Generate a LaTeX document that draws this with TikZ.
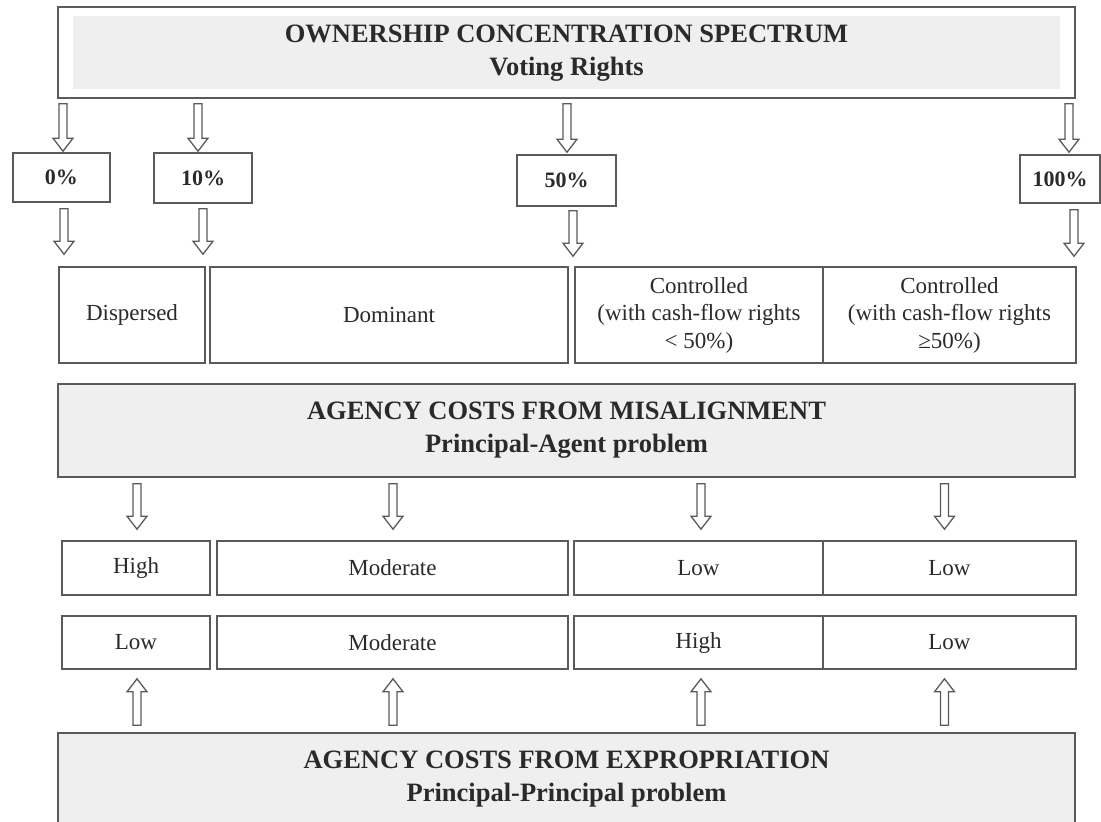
\documentclass[tikz,border=0pt]{standalone}
\usepackage{fontspec}
\setmainfont{Liberation Serif}
\usetikzlibrary{calc}
\definecolor{ln}{HTML}{5A5A5A}
\definecolor{tx}{HTML}{2A2A2A}
\definecolor{fillg}{HTML}{EFEFEF}
\newcommand\blkdown[2]{\draw[blkarrow] let \p1=(#1), \p2=(#2) in
  (\x1-4pt,\y1) -- (\x1+4pt,\y1) -- (\x1+4pt,\y2+13pt) -- (\x1+10pt,\y2+13pt) -- (\x1,\y2)
  -- (\x1-10pt,\y2+13pt) -- (\x1-4pt,\y2+13pt) -- cycle;}
\newcommand\blkup[2]{\draw[blkarrow] let \p1=(#1), \p2=(#2) in
  (\x1-4pt,\y1) -- (\x1+4pt,\y1) -- (\x1+4pt,\y2-13pt) -- (\x1+10pt,\y2-13pt) -- (\x1,\y2)
  -- (\x1-10pt,\y2-13pt) -- (\x1-4pt,\y2-13pt) -- cycle;}
\begin{document}
\begin{tikzpicture}[x=1pt,y=-1pt,
  box/.style={draw=ln, line width=1.6pt, text=tx, inner sep=0pt, align=center,
    font=\fontsize{23}{27.5}\selectfont},
  pct/.style={box, font=\fontsize{22}{26}\selectfont\bfseries},
  headfont/.style={font=\fontsize{26.5}{33}\selectfont\bfseries},
  head/.style={text=tx, align=center, headfont},
  blkarrow/.style={draw=ln, line width=1.3pt, fill=white}]
\useasboundingbox[fill=white] (0,0) rectangle (1101,822);

% top box
\node[box, minimum width=1017pt, minimum height=91pt] (top) at (566.5,52.5) {};
\fill[fillg] (73,16) rectangle (1060,89);
\node[head] (title) at (566.5,53) {OWNERSHIP CONCENTRATION SPECTRUM\\Voting Rights};

% percentage boxes
\node[pct, minimum width=97pt, minimum height=49pt] (p0) at (61.5,177.5) {0\%};
\node[pct, minimum width=98pt, minimum height=50pt] (p10) at (203,178) {10\%};
\node[pct, minimum width=99pt, minimum height=51pt] (p50) at (566.5,180.5) {50\%};
\node[pct, minimum width=80pt, minimum height=48pt] (p100) at (1060,179) {100\%};

% ownership categories
\node[box, minimum width=146pt, minimum height=96pt] (disp) at (132,315) {Dispersed};
\node[box, minimum width=358pt, minimum height=96pt] (dom) at (389,315) {Dominant};
\node[box, minimum width=248pt, minimum height=96pt] (c1) at (699,315) {Controlled\\(with cash-flow rights\\< 50\%)};
\node[box, minimum width=253pt, minimum height=96pt] (c2) at (949.5,315) {Controlled\\(with cash-flow rights\\≥50\%)};

% misalignment box
\node[box, fill=fillg, minimum width=1017pt, minimum height=93pt, headfont] (mis) at (566.5,430.5) {AGENCY COSTS FROM MISALIGNMENT\\Principal-Agent problem};

% rows of levels
\node[box, minimum width=148pt, minimum height=54pt] (h1) at (136,568) {High};
\node[box, minimum width=351pt, minimum height=54pt] (h2) at (392.5,568) {Moderate};
\node[box, minimum width=249pt, minimum height=54pt] (h3) at (698.5,568) {Low};
\node[box, minimum width=253pt, minimum height=54pt] (h4) at (949.5,568) {Low};

\node[box, minimum width=148pt, minimum height=53pt] (l1) at (136,642.5) {Low};
\node[box, minimum width=351pt, minimum height=53pt] (l2) at (392.5,642.5) {Moderate};
\node[box, minimum width=249pt, minimum height=53pt] (l3) at (698.5,642.5) {High};
\node[box, minimum width=253pt, minimum height=53pt] (l4) at (949.5,642.5) {Low};

% expropriation box (cut off by the page edge)
\node[box, fill=fillg, minimum width=1017pt, minimum height=93pt, headfont] (exp) at (566.5,779.5) {AGENCY COSTS FROM EXPROPRIATION\\Principal-Principal problem};

% arrows top -> percentages
\blkdown{$(top.south -| p0)+(1.5,5)$}{$(p0.north)+(1.5,-1)$}
\blkdown{$(top.south -| p10)+(-5,5)$}{$(p10.north)+(-5,-1)$}
\blkdown{$(top.south -| p50)+(0.5,5)$}{$(p50.north)+(0.5,-2)$}
\blkdown{$(top.south -| p100)+(9,5)$}{$(p100.north)+(9,-2)$}

% arrows percentages -> categories
\blkdown{$(p0.south)+(2.5,6)$}{$(p0.south |- disp.north)+(2.5,-12)$}
\blkdown{$(p10.south)+(0,5)$}{$(p10.south |- dom.north)+(0,-12)$}
\blkdown{$(p50.south)+(6.5,4)$}{$(p50.south |- c1.north)+(6.5,-10)$}
\blkdown{$(p100.south)+(14,6)$}{$(p100.south |- c2.north)+(14,-10)$}

% arrows misalignment -> levels
\blkdown{$(mis.south -| h1)+(1,6)$}{$(h1.north)+(1,-11)$}
\blkdown{$(mis.south -| h2)+(0.5,6)$}{$(h2.north)+(0.5,-11)$}
\blkdown{$(mis.south -| h3)+(2.5,6)$}{$(h3.north)+(2.5,-11)$}
\blkdown{$(mis.south -| h4)+(-5,6)$}{$(h4.north)+(-5,-11)$}

% arrows expropriation -> levels
\blkup{$(exp.north -| l1)+(1,-7)$}{$(l1.south)+(1,9)$}
\blkup{$(exp.north -| l2)+(0.5,-7)$}{$(l2.south)+(0.5,9)$}
\blkup{$(exp.north -| l3)+(2.5,-7)$}{$(l3.south)+(2.5,9)$}
\blkup{$(exp.north -| l4)+(-5,-7)$}{$(l4.south)+(-5,9)$}
\end{tikzpicture}
\end{document}
